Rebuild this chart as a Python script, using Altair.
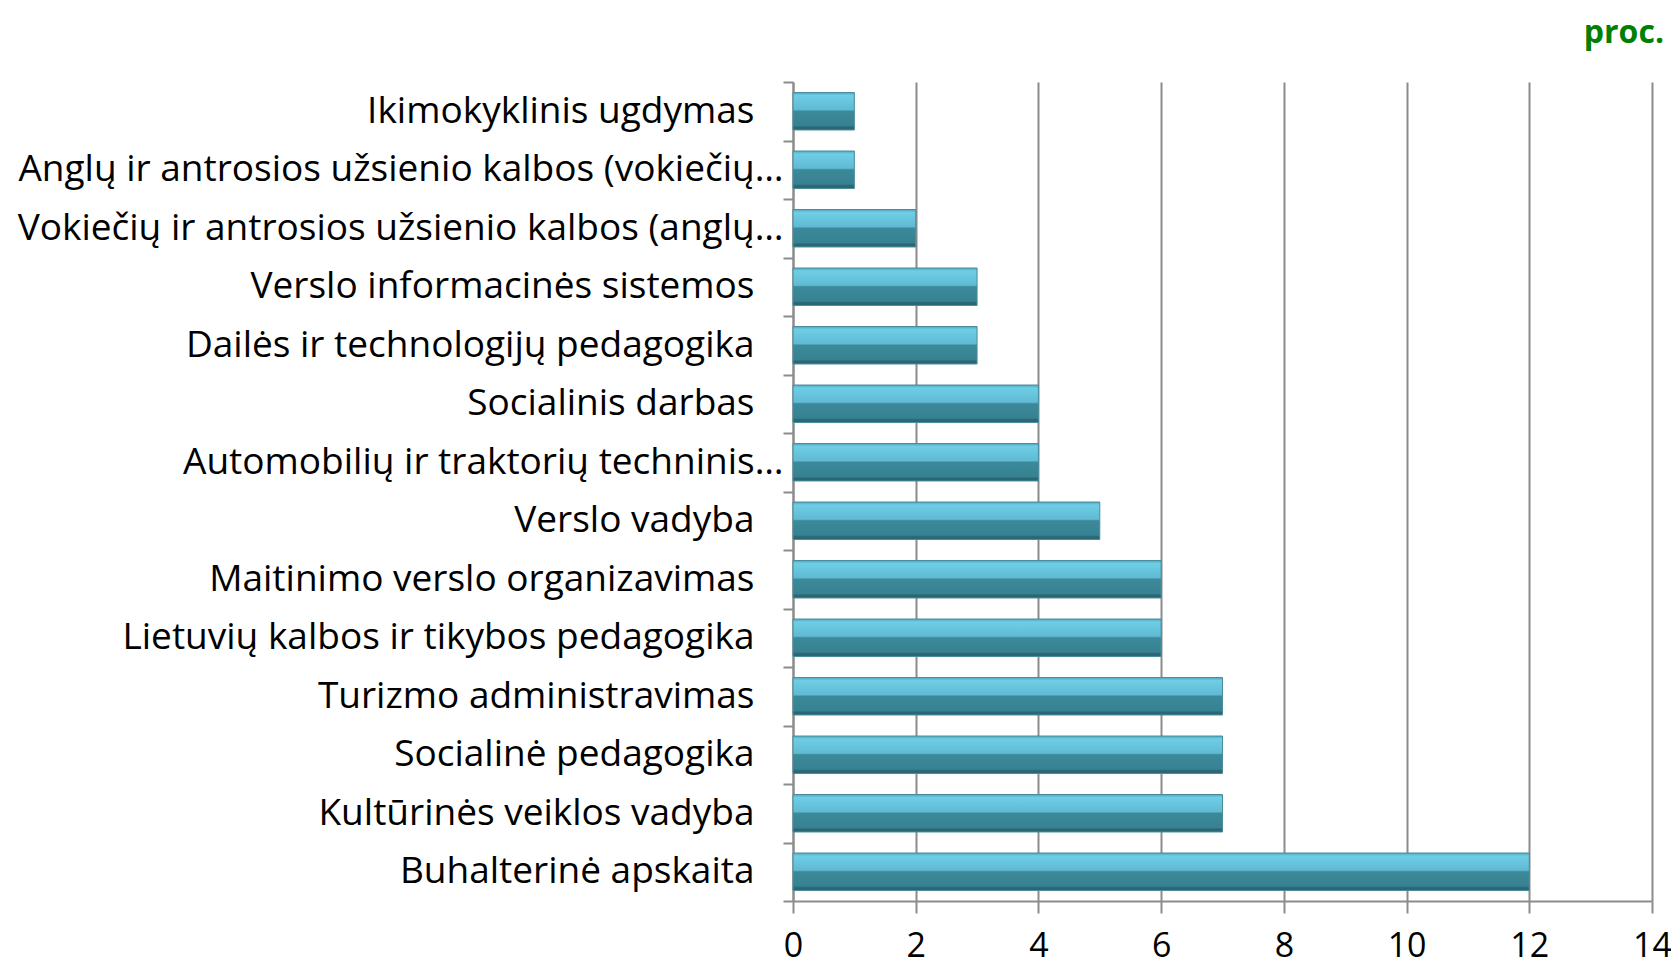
import altair as alt
import pandas as pd

categories = [
    "Ikimokyklinis ugdymas",
    "Anglų ir antrosios užsienio kalbos (vokiečių…",
    "Vokiečių ir antrosios užsienio kalbos (anglų…",
    "Verslo informacinės sistemos",
    "Dailės ir technologijų pedagogika",
    "Socialinis darbas",
    "Automobilių ir traktorių techninis…",
    "Verslo vadyba",
    "Maitinimo verslo organizavimas",
    "Lietuvių kalbos ir tikybos pedagogika",
    "Turizmo administravimas",
    "Socialinė pedagogika",
    "Kultūrinės veiklos vadyba",
    "Buhalterinė apskaita",
]
values = [1, 1, 2, 3, 3, 4, 4, 5, 6, 6, 7, 7, 7, 12]
x_ticks = [0, 2, 4, 6, 8, 10, 12, 14]
unit_label = ["proc."]

df = pd.DataFrame({"program": categories, "proc": values})
df_unit = pd.DataFrame({"t": unit_label})

GRAY = "#8c8c8c"
FONT = "Open Sans"
W, H = 859, 819

grad = alt.Gradient(
    gradient="linear", x1=0, x2=0, y1=0, y2=1,
    stops=[
        alt.GradientStop(color="#4fa9bf", offset=0),
        alt.GradientStop(color="#6fcde6", offset=0.08),
        alt.GradientStop(color="#5fbbd3", offset=0.46),
        alt.GradientStop(color="#3c899a", offset=0.5),
        alt.GradientStop(color="#368293", offset=0.88),
        alt.GradientStop(color="#2b6674", offset=0.93),
        alt.GradientStop(color="#2b6674", offset=1),
    ],
)

bars = (
    alt.Chart(df)
    .mark_bar(color=grad, height=alt.RelativeBandSize(0.64), stroke="#4a8c9b", strokeWidth=1)
    .encode(
        y=alt.Y(
            "program:N",
            sort=categories,
            scale=alt.Scale(paddingInner=0, paddingOuter=0),
            axis=alt.Axis(
                title=None,
                domainColor=GRAY, domainWidth=2,
                tickColor=GRAY, tickWidth=2, tickSize=10, tickBand="extent",
                labelFont=FONT, labelFontSize=37, labelColor="black",
                labelLimit=1000,
                labelPadding={"condition": {"test": "indexof(datum.label, '…') >= 0", "value": 0}, "value": 29},
            ),
        ),
        x=alt.X(
            "proc:Q",
            scale=alt.Scale(domain=[0, 14], nice=False),
            axis=alt.Axis(
                title=None, values=x_ticks, grid=True,
                gridColor=GRAY, gridWidth=2,
                domainColor=GRAY, domainWidth=2,
                tickColor=GRAY, tickWidth=2, tickSize=12,
                labelFont=FONT, labelFontSize=34, labelColor="black",
                labelPadding=16, labelFlush=False,
            ),
        ),
    )
)

unit = (
    alt.Chart(df_unit)
    .mark_text(
        font=FONT, fontSize=32, fontWeight="bold", color="#008000",
        align="right", baseline="alphabetic",
    )
    .encode(text="t:N", x=alt.value(W + 12), y=alt.value(-39))
)

chart = (
    alt.layer(bars, unit)
    .properties(
        width=W,
        height=H,
        autosize=alt.AutoSizeParams(type="none"),
        padding={"left": 785, "top": 74, "right": 19, "bottom": 66},
    )
    .configure_view(stroke=None)
)

chart.save("out.html", embed_options={"renderer": "svg", "actions": False})
